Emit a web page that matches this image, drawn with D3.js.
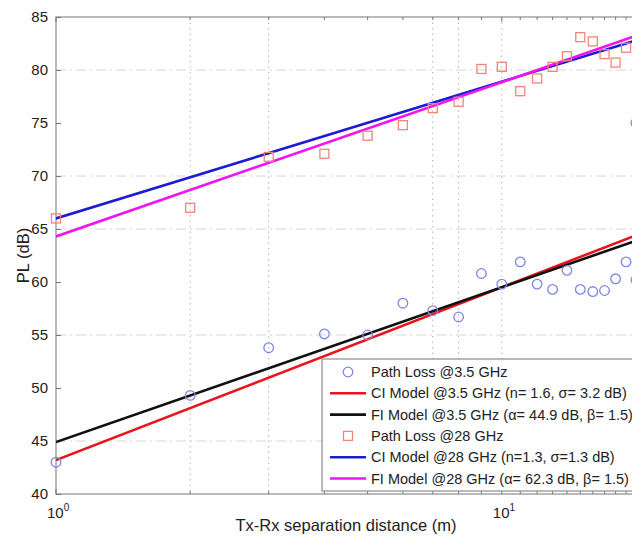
<!DOCTYPE html>
<html>
<head>
<meta charset="utf-8">
<script src="https://cdn.jsdelivr.net/npm/d3@7"></script>
<style>
  body { margin: 0; background: #fff; }
  text { font-family: "Liberation Sans", Arial, Helvetica, sans-serif; fill: #222; }
</style>
</head>
<body>
<svg id="chart" width="632" height="541"></svg>
<script>
// Measured path loss, 3.5 GHz (distance in m, PL in dB)
const dist35 = [1, 2, 3, 4, 5, 6, 7, 8, 9, 10, 11, 12, 13, 14, 15, 16, 17, 18, 19, 20, 20];
const pl35   = [43.0, 49.3, 53.8, 55.1, 55.0, 58.0, 57.3, 56.7, 60.8, 59.8, 61.9, 59.8, 59.3, 61.1, 59.3, 59.1, 59.2, 60.3, 61.9, 60.2, 75.0];

// Measured path loss, 28 GHz
const dist28 = [1, 2, 3, 4, 5, 6, 7, 8, 9, 10, 11, 12, 13, 14, 15, 16, 17, 18, 19];
const pl28   = [66.0, 67.0, 71.8, 72.1, 73.8, 74.8, 76.4, 77.0, 80.1, 80.3, 78.0, 79.2, 80.3, 81.3, 83.1, 82.7, 81.5, 80.7, 82.1];

// Fitted models: PL(d) = PL0 + 10*n*log10(d)
const modelKeys   = ["ci35", "fi35", "ci28", "fi28"];
const modelPL0    = [43.2, 44.9, 66.0, 64.3];
const modelN      = [1.63, 1.46, 1.29, 1.455];
const modelColors = ["#e8141e", "#111111", "#1c1cd0", "#f014f0"];

// Legend entries (in drawing order)
const legendLabels = [
  "Path Loss @3.5 GHz",
  "CI Model @3.5 GHz (n= 1.6, \u03c3= 3.2 dB)",
  "FI Model @3.5 GHz (\u03b1= 44.9 dB, \u03b2= 1.5)",
  "Path Loss @28 GHz",
  "CI Model @28 GHz (n=1.3, \u03c3=1.3 dB)",
  "FI Model @28 GHz (\u03b1= 62.3 dB, \u03b2= 1.5)"
];
const legendKinds = ["circle", "ci35", "fi35", "square", "ci28", "fi28"];

// Axis ticks and grid
const yTicks      = [40, 45, 50, 55, 60, 65, 70, 75, 80, 85];
const xMajorTicks = [1, 10];
const xMinorTicks = [2, 3, 4, 5, 6, 7, 8, 9, 11, 12, 13, 14, 15, 16, 17, 18, 19];
const xGridLines  = [2, 3, 7, 8, 10];
const yGridLines  = [45, 55, 65, 70, 80];

const circleColor = "#7f86e6";
const squareColor = "#f0857a";

const svg = d3.select("#chart");
const plotLeft = 56, plotTop = 17, plotBottom = 494;

const x = d3.scaleLog().domain([1, 20]).range([plotLeft, 636]);
const y = d3.scaleLinear().domain([40, 85]).range([plotBottom, plotTop]);
const plotRight = x(20);

// clip region for the fitted lines
svg.append("defs").append("clipPath").attr("id", "plotClip")
  .append("rect").attr("x", plotLeft).attr("y", plotTop)
  .attr("width", plotRight - plotLeft).attr("height", plotBottom - plotTop);

// grid
const grid = svg.append("g");
grid.selectAll("line.vg").data(xGridLines).join("line")
  .attr("x1", d => x(d)).attr("x2", d => x(d))
  .attr("y1", plotTop).attr("y2", plotBottom)
  .attr("stroke", "#b4b4b4").attr("stroke-width", 1)
  .attr("stroke-dasharray", "1.5,4");
grid.selectAll("line.hg").data(yGridLines).join("line")
  .attr("x1", plotLeft).attr("x2", plotRight)
  .attr("y1", d => y(d)).attr("y2", d => y(d))
  .attr("stroke", "#d6d6d6").attr("stroke-width", 1)
  .attr("stroke-dasharray", "10,4,2,4");

// frame
svg.append("rect").attr("x", plotLeft).attr("y", plotTop)
  .attr("width", plotRight - plotLeft).attr("height", plotBottom - plotTop)
  .attr("fill", "none").attr("stroke", "#8c8c8c").attr("stroke-width", 1.2);

// y axis
const yAxis = d3.axisLeft(y).tickValues(yTicks).tickSize(-5).tickPadding(8).tickFormat(d3.format("d"));
const gy = svg.append("g").attr("transform", `translate(${plotLeft},0)`).call(yAxis);
gy.select(".domain").remove();
gy.selectAll(".tick line").attr("stroke", "#777");
gy.selectAll(".tick text").style("font-size", "15px").attr("fill", "#222");

// inward ticks on bottom and top edges
const allX = xMajorTicks.concat(xMinorTicks);
const ticksG = svg.append("g").attr("stroke", "#777").attr("stroke-width", 1);
ticksG.selectAll("line.bt").data(allX).join("line")
  .attr("x1", d => x(d)).attr("x2", d => x(d))
  .attr("y1", plotBottom).attr("y2", d => plotBottom - (xMajorTicks.includes(d) ? 5 : 3));
ticksG.selectAll("line.tt").data(allX).join("line")
  .attr("x1", d => x(d)).attr("x2", d => x(d))
  .attr("y1", plotTop).attr("y2", d => plotTop + (xMajorTicks.includes(d) ? 5 : 3));

// x tick labels as powers of ten
const xl = svg.append("g");
xMajorTicks.forEach(d => {
  const t = xl.append("text").attr("x", x(d) - 9).attr("y", plotBottom + 24)
    .style("font-size", "15px");
  t.append("tspan").text("10");
  t.append("tspan").attr("dy", -7).style("font-size", "10px").text(String(Math.round(Math.log10(d))));
});

// axis titles
svg.append("text").attr("x", (plotLeft + plotRight) / 2).attr("y", 531)
  .attr("text-anchor", "middle").style("font-size", "16.5px")
  .text("Tx-Rx separation distance (m)");
svg.append("text").attr("transform", `translate(29,${(plotTop + plotBottom) / 2}) rotate(-90)`)
  .attr("text-anchor", "middle").style("font-size", "16.5px")
  .text("PL (dB)");

// fitted model lines
const lineGen = (pl0, n) => d3.line()
  .x(d => x(d)).y(d => y(pl0 + 10 * n * Math.log10(d)));
const lineDomain = [1, 20];
const lines = svg.append("g").attr("clip-path", "url(#plotClip)");
modelKeys.forEach((k, i) => {
  lines.append("path").datum(lineDomain)
    .attr("d", lineGen(modelPL0[i], modelN[i]))
    .attr("fill", "none").attr("stroke", modelColors[i]).attr("stroke-width", 2.6);
});

// measured points
svg.append("g").selectAll("circle").data(dist35.map((d, i) => [d, pl35[i]])).join("circle")
  .attr("cx", d => x(d[0])).attr("cy", d => y(d[1])).attr("r", 4.8)
  .attr("fill", "none").attr("stroke", circleColor).attr("stroke-width", 1.3);
svg.append("g").selectAll("rect").data(dist28.map((d, i) => [d, pl28[i]])).join("rect")
  .attr("x", d => x(d[0]) - 4.5).attr("y", d => y(d[1]) - 4.5)
  .attr("width", 9).attr("height", 9)
  .attr("fill", "none").attr("stroke", squareColor).attr("stroke-width", 1.3);

// legend
const lg = svg.append("g");
const lgX = 322, lgY = 359, rowH = 21.3;
lg.append("rect").attr("x", lgX).attr("y", lgY).attr("width", 340).attr("height", 132)
  .attr("fill", "#fff").attr("stroke", "#8c8c8c").attr("stroke-width", 1.2);
legendLabels.forEach((lab, i) => {
  const cy = lgY + 13 + i * rowH;
  const kind = legendKinds[i];
  if (kind === "circle") {
    lg.append("circle").attr("cx", 348).attr("cy", cy).attr("r", 4.8)
      .attr("fill", "none").attr("stroke", circleColor).attr("stroke-width", 1.3);
  } else if (kind === "square") {
    lg.append("rect").attr("x", 343.5).attr("y", cy - 4.5).attr("width", 9).attr("height", 9)
      .attr("fill", "none").attr("stroke", squareColor).attr("stroke-width", 1.3);
  } else {
    const mi = modelKeys.indexOf(kind);
    lg.append("line").attr("x1", 330).attr("x2", 366).attr("y1", cy).attr("y2", cy)
      .attr("stroke", modelColors[mi]).attr("stroke-width", 2.6);
  }
  lg.append("text").attr("x", 371).attr("y", cy + 5).style("font-size", "14.5px").text(lab);
});
</script>
</body>
</html>
